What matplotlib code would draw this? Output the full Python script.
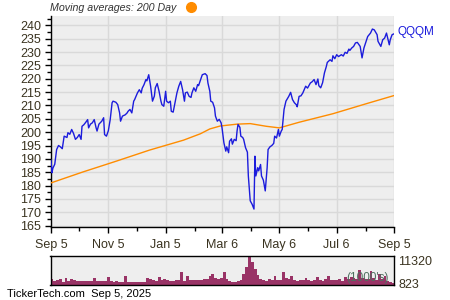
import pandas as pd
import numpy as np
import matplotlib.pyplot as plt
import matplotlib.dates as mdates

plt.rcParams['font.family'] = ['Liberation Sans', 'DejaVu Sans']

start = pd.Timestamp('2024-09-05')

# QQQM closing price (days after Sep 5 2024, price)
price_day = [0, 1, 2, 4, 6, 8, 10, 12, 14, 17, 18, 20, 22, 24, 26, 28, 30, 32, 33, 35,
             37, 39, 40, 42, 44, 46, 48, 49, 51, 54, 56, 57, 59, 61, 63, 65, 66, 69, 71, 73,
             74, 76, 79, 81, 82, 84, 86, 88, 89, 92, 94, 96, 97, 99, 101, 102, 104, 106, 108, 110,
             111, 113, 115, 117, 118, 120, 122, 123, 125, 127, 128, 130, 132, 134, 136, 138, 140, 142, 143, 145,
             147, 149, 150, 152, 154, 156, 157, 159, 161, 164, 166, 167, 169, 170, 172, 174, 175, 177, 179, 181,
             182, 184, 186, 187, 189, 190, 192, 193, 195, 197, 198, 199, 201, 202, 204, 205, 207, 209, 210, 212,
             214, 216, 217, 218, 220, 221, 223, 224, 226, 228, 230, 231, 233, 235, 237, 238, 240, 242, 243, 245,
             246, 248, 250, 253, 255, 257, 259, 261, 262, 264, 266, 268, 271, 273, 276, 278, 280, 282, 284, 285,
             287, 289, 291, 293, 294, 297, 299, 300, 302, 304, 306, 309, 311, 313, 315, 317, 318, 320, 322, 324,
             326, 329, 331, 333, 335, 337, 340, 342, 344, 347, 348, 351, 353, 355, 357, 360, 361, 363, 365]
price = [189.5, 184.8, 186.5, 188.0, 193.5, 195.0, 194.5, 193.8, 198.5, 198.0, 199.8, 199.2, 201.0, 199.5, 197.3, 198.0, 199.1, 197.3, 202.2, 202.8,
         203.7, 204.7, 201.6, 203.0, 203.5, 204.7, 201.6, 200.4, 203.0, 204.1, 205.4, 199.1, 198.5, 200.5, 204.7, 211.0, 211.6, 211.2, 210.3, 207.2,
         204.1, 206.0, 206.5, 207.2, 207.8, 208.5, 207.2, 211.6, 212.2, 214.7, 215.9, 214.7, 216.4, 217.8, 219.7, 219.2, 221.5, 217.2, 211.6, 213.5,
         216.6, 218.2, 215.3, 211.6, 210.3, 209.7, 215.3, 211.6, 211.0, 211.6, 207.8, 207.5, 211.0, 214.7, 217.2, 219.0, 215.9, 211.6, 214.7, 215.0,
         213.4, 213.0, 214.7, 216.6, 215.3, 217.8, 217.4, 219.4, 221.5, 221.9, 221.2, 218.4, 215.3, 211.6, 211.2, 209.1, 206.0, 204.1, 204.8, 203.5,
         201.6, 196.0, 192.9, 194.5, 192.3, 196.6, 197.5, 195.5, 197.3, 196.8, 200.4, 202.9, 201.8, 198.5, 198.0, 197.3, 194.2, 192.5, 183.6, 174.3,
         173.0, 171.2, 191.0, 183.6, 186.7, 185.5, 187.9, 183.6, 182.0, 178.0, 186.7, 193.5, 194.5, 195.0, 195.8, 198.5, 197.8, 201.0, 198.5, 200.4,
         201.0, 208.5, 211.6, 213.4, 214.9, 212.2, 211.0, 210.3, 209.5, 213.4, 213.6, 214.7, 217.2, 216.5, 218.4, 218.9, 219.7, 217.8, 219.9, 217.4,
         216.6, 218.5, 222.2, 224.6, 226.1, 227.1, 226.5, 228.6, 227.5, 229.0, 228.3, 229.0, 228.5, 229.9, 229.5, 231.1, 230.6, 231.5, 232.1, 233.4,
         233.6, 232.1, 227.8, 231.5, 233.6, 235.8, 237.1, 238.6, 238.3, 236.5, 234.0, 232.1, 234.6, 235.2, 237.1, 232.7, 234.6, 236.5, 236.8]

# 200 day moving average
ma_day = [0, 34, 70, 105, 141, 159, 169, 180, 198, 212, 229, 243, 264, 300, 336, 365]
ma200 = [181.0, 185.1, 189.2, 193.3, 197.0, 199.4, 201.2, 202.3, 203.0, 203.2, 202.2, 201.6, 203.7, 206.9, 210.7, 213.7]

# volume in 1000's, one value per 3 days
volume = [2600, 1600, 2000, 2400, 1300, 2900, 1800, 2300, 2000, 1700,
          1500, 1800, 1600, 1500, 1700, 2800, 1700, 1500, 1700, 1600,
          3100, 1500, 1400, 1500, 1300, 1400, 3600, 1300, 1200, 1400,
          1300, 1200, 1400, 1300, 2800, 2500, 2000, 1800, 3300, 2200,
          2400, 1900, 1800, 1700, 2000, 2100, 5200, 1800, 3600, 2000,
          1900, 2000, 1900, 2200, 2500, 2600, 3600, 4500, 3000, 2500,
          3000, 5000, 2500, 1500, 1400, 1300, 1500, 2200, 4500, 7000,
          11320, 9000, 6500, 4000, 2600, 2000, 1800, 2500, 2000, 3500,
          2000, 2200, 5000, 3000, 2500, 3500, 2000, 1800, 2200, 1900,
          2800, 2000, 1700, 1900, 3200, 2000, 1800, 2400, 3500, 2100,
          1900, 2000, 2500, 1800, 3200, 2600, 3100, 2800, 2400, 6000,
          2900, 2500, 2300, 5500, 3000, 2000, 4500, 2500, 3800, 1500,
          1200, 1000]
vol_labels = [823, 11320]

tick_dates = ['2024-09-05', '2024-11-05', '2025-01-05', '2025-03-06', '2025-05-06', '2025-07-06', '2025-09-05']
tick_labels = ['Sep 5', 'Nov 5', 'Jan 5', 'Mar 6', 'May 6', 'Jul 6', 'Sep 5']
minor_dates = ['2024-10-05', '2024-12-05', '2025-02-05', '2025-04-06', '2025-06-06', '2025-08-06']

txt = '#3a3320'
bg = '#eeeeee'
grid = '#d9d9d9'

fig = plt.figure(figsize=(4.5, 3), dpi=100)
ax = fig.add_axes([51 / 450, 1 - 226.7 / 300, 343 / 450, 211 / 300])
ax.set_facecolor(bg)

p_dates = start + pd.to_timedelta(price_day, unit='D')
m_dates = start + pd.to_timedelta(ma_day, unit='D')
ax.plot(m_dates, ma200, color='#ff8c00', lw=1.0, zorder=3)
ax.plot(p_dates, price, color='#1c1cdc', lw=1.0, zorder=4)

x0 = pd.Timestamp(tick_dates[0])
x1 = pd.Timestamp(tick_dates[-1])
ax.set_xlim(x0, x1)
ax.set_ylim(164.6, 243.6)
ax.set_yticks(np.arange(165, 241, 5))
ax.set_yticks(np.arange(165, 243, 2.5), minor=True)
ax.set_xticks(pd.to_datetime(tick_dates))
ax.set_xticklabels(tick_labels)
ax.set_xticks(pd.to_datetime(minor_dates), minor=True)
ax.grid(True, which='major', color=grid, lw=1.0, zorder=0)
ax.set_axisbelow(True)
for s in ['top', 'right']:
    ax.spines[s].set_visible(False)
for s in ['left', 'bottom']:
    ax.spines[s].set_color('black')
    ax.spines[s].set_linewidth(1.0)
ax.tick_params(which='major', length=4, width=1, labelsize=9, labelcolor=txt, pad=3)
ax.tick_params(which='minor', length=3, width=1)
ax.tick_params(axis='x', which='major', pad=5)

ax.annotate('QQQM', xy=(p_dates[-1], price[-1]), xytext=(2.5, 1), textcoords='offset points',
            color='#1c1cdc', fontsize=8.5, va='center', ha='left', annotation_clip=False)

fig.text(50 / 450, 1 - 8 / 300, 'Moving averages: 200 Day', fontsize=7.7, style='italic',
         color='#333333', ha='left', va='center')
fig.add_artist(plt.Line2D([190.5 / 450], [1 - 7 / 300], transform=fig.transFigure,
                          marker='o', ms=7, color='#ff8c00', lw=0))

# volume panel
vax = fig.add_axes([50.5 / 450, 1 - 285.3 / 300, 343.5 / 450, 29 / 300])
vax.set_facecolor(bg)
v_dates = start + pd.to_timedelta(np.arange(len(volume)) * 3, unit='D')
vax.bar(v_dates, volume, width=3, align='edge', color='#993366', lw=0)
vax.set_xlim(x0, x1)
vax.set_ylim(0, 11320)
vax.set_xticks([])
vax.yaxis.tick_right()
vax.set_yticks(vol_labels)
vax.set_yticklabels([str(v) for v in vol_labels])
vax.tick_params(axis='y', length=0, labelsize=9, labelcolor=txt, pad=3)
vax.get_yticklabels()[1].set_va('top')
for s in vax.spines.values():
    s.set_color('black')
    s.set_linewidth(1.0)
vax.text(0.985, 0.06, "(1000's)", transform=vax.transAxes, ha='right', va='bottom',
         fontsize=8.5, color='#4f6f60', zorder=5)

fig.text(7 / 450, 1 - 294 / 300, 'TickerTech.com  Sep 5, 2025', fontsize=8, color='black',
         ha='left', va='center')

fig.savefig('out.png', dpi=100)
